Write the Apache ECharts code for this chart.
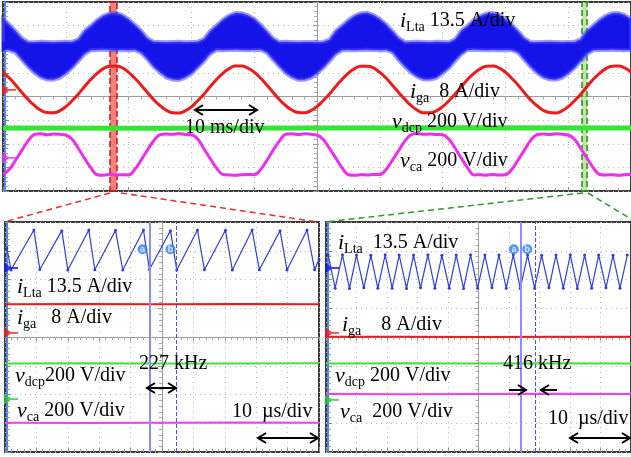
<!DOCTYPE html>
<html><head><meta charset="utf-8">
<script src="https://cdn.jsdelivr.net/npm/echarts@6/dist/echarts.min.js"></script>
<style>html,body{margin:0;padding:0;background:#fff}#c{width:631px;height:457px}</style>
</head><body><div id="c"></div>
<script>
// ---------- TOP PANEL (10 ms/div, time in ms relative to screen centre, 1 ms steps) ----------
const topStartMs = -50, topStepMs = 1;
const redTop = [
 1.03,0.78,0.49,0.17,-0.13,-0.38,-0.58,-0.68,-0.69,-0.61,-0.43,-0.18,0.11,0.42,0.73,0.98,1.18,1.28,1.29,1.21,
 1.02,0.77,0.48,0.17,-0.14,-0.39,-0.58,-0.69,-0.70,-0.61,-0.44,-0.18,0.10,0.42,0.72,0.98,1.18,1.29,1.29,1.20,
 1.03,0.78,0.49,0.18,-0.13,-0.38,-0.57,-0.68,-0.69,-0.60,-0.43,-0.17,0.11,0.43,0.73,0.99,1.18,1.28,1.28,1.21,
 1.02,0.78,0.48,0.17,-0.13,-0.39,-0.58,-0.69,-0.69,-0.61,-0.43,-0.18,0.11,0.42,0.73,0.98,1.17,1.28,1.29,1.21,
 1.03,0.77,0.49,0.17,-0.14,-0.38,-0.58,-0.68,-0.70,-0.61,-0.43,-0.18,0.10,0.42,0.73,0.98,1.18,1.28,1.29,1.21,
 1.03];
const magentaTop = [
 -3.30,-3.09,-2.70,-2.28,-1.88,-1.61,-1.58,-1.62,-1.59,-1.60,-1.63,-1.81,-2.20,-2.62,-3.02,-3.31,-3.33,-3.30,-3.32,-3.31,
 -3.32,-3.08,-2.69,-2.27,-1.87,-1.62,-1.59,-1.60,-1.57,-1.61,-1.62,-1.80,-2.21,-2.63,-3.03,-3.30,-3.32,-3.33,-3.31,-3.30,
 -3.31,-3.10,-2.71,-2.28,-1.89,-1.60,-1.58,-1.61,-1.58,-1.60,-1.63,-1.82,-2.20,-2.61,-3.02,-3.31,-3.33,-3.31,-3.32,-3.30,
 -3.30,-3.09,-2.70,-2.29,-1.88,-1.61,-1.57,-1.60,-1.59,-1.61,-1.62,-1.81,-2.19,-2.62,-3.03,-3.32,-3.31,-3.33,-3.30,-3.32,
 -3.31,-3.09,-2.70,-2.28,-1.87,-1.62,-1.59,-1.61,-1.58,-1.60,-1.63,-1.81,-2.20,-2.62,-3.02,-3.30,-3.32,-3.31,-3.33,-3.31,
 -3.30];
const blueUpper = [
 3.28,3.05,2.77,2.47,2.31,2.30,2.32,2.31,2.30,2.31,2.32,2.31,2.42,2.78,3.00,3.24,3.42,3.52,3.53,3.45,
 3.27,3.04,2.78,2.46,2.32,2.31,2.30,2.31,2.32,2.30,2.31,2.32,2.43,2.77,3.01,3.25,3.43,3.53,3.52,3.44,
 3.29,3.05,2.76,2.47,2.31,2.32,2.31,2.30,2.31,2.31,2.30,2.31,2.41,2.78,3.00,3.23,3.42,3.52,3.54,3.45,
 3.28,3.06,2.77,2.48,2.30,2.31,2.32,2.31,2.30,2.32,2.31,2.30,2.42,2.79,3.00,3.24,3.41,3.51,3.53,3.46,
 3.28,3.05,2.77,2.47,2.31,2.30,2.31,2.32,2.31,2.30,2.31,2.31,2.42,2.78,3.01,3.24,3.42,3.52,3.53,3.45,
 3.28];
const blueLower = [
 1.97,1.96,1.86,1.56,1.26,1.01,0.82,0.72,0.71,0.79,0.97,1.21,1.50,1.80,1.96,1.97,1.98,1.97,1.96,1.97,
 1.96,1.97,1.85,1.57,1.25,1.02,0.81,0.72,0.70,0.80,0.96,1.22,1.49,1.81,1.97,1.96,1.97,1.98,1.97,1.96,
 1.97,1.98,1.86,1.56,1.27,1.00,0.82,0.71,0.71,0.79,0.97,1.21,1.50,1.80,1.96,1.97,1.96,1.97,1.98,1.97,
 1.96,1.97,1.87,1.55,1.26,1.01,0.83,0.72,0.72,0.78,0.98,1.20,1.51,1.79,1.97,1.98,1.97,1.96,1.97,1.96,
 1.97,1.96,1.86,1.56,1.26,1.01,0.82,0.73,0.71,0.79,0.97,1.21,1.50,1.80,1.96,1.97,1.97,1.98,1.97,1.96,
 1.97];
const flatTimes = [-50, -25, 0, 25, 50];
const greenTop = [-1.33, -1.34, -1.33, -1.32, -1.33];
const topMarkerLevels = [2.14, 0.28, -2.60];
const redCursorMs = [-32.96, -31.85];
const greenCursorMs = [42.2, 43.0];

// ---------- BOTTOM-LEFT (10 us/div, time in us rel. centre) ----------
const blTimes = [-49.4,-48.1,-40.8,-38.9,-31.9,-30.0,-23.3,-21.4,-14.8,-12.5,-5.9,-4.0,2.7,4.7,11.3,13.5,20.2,22.4,28.7,31.0,37.6,39.8,46.2,48.6,50];
const blBlue  = [3.10,2.33,3.72,2.35,3.70,2.33,3.72,2.34,3.71,2.33,3.72,2.35,3.70,2.33,3.72,2.34,3.71,2.33,3.72,2.34,3.70,2.33,3.72,2.34,2.70];
const blRed = [1.14, 1.15, 1.14, 1.15, 1.14];
const blGreen = [-0.92, -0.91, -0.92, -0.92, -0.91];
const blMagenta = [-2.98, -2.99, -2.98, -2.97, -2.98];
const blCursorsUs = [-4.0, 4.6];
const blCursorTags = [-6.2, 2.7];
const blMarkerLevels = [2.40, 0.14, -2.16];

// ---------- BOTTOM-RIGHT ----------
const brTimes = [-49.3,-47.0,-44.6,-42.3,-40.0,-37.6,-35.3,-33.0,-30.6,-28.3,-26.0,-23.6,-21.3,-19.0,-16.6,-14.3,-12.0,-9.6,-7.3,-4.9,-2.6,-0.3,2.1,4.4,6.7,9.1,11.4,13.7,16.1,18.4,20.7,23.1,25.4,27.8,30.1,32.4,34.8,37.1,39.4,41.8,44.1,46.4,48.8];
const brBlue  = [2.85,1.70,2.86,1.69,2.85,1.71,2.84,1.70,2.86,1.70,2.85,1.69,2.85,1.71,2.86,1.70,2.84,1.70,2.85,1.69,2.86,1.70,2.85,1.71,2.85,1.70,2.86,1.69,2.85,1.70,2.84,1.71,2.85,1.70,2.86,1.69,2.85,1.70,2.85,1.71,2.84,1.70,2.85];
const brRed = [0.01, 0.01, 0.00, 0.01, 0.01];
const brGreen = [-0.92, -0.91, -0.92, -0.91, -0.92];
const brMagenta = [-1.98, -1.99, -1.98, -1.97, -1.98];
const brCursorsUs = [14.0, 18.5];
const brCursorTags = [11.6, 16.0];
const brMarkerLevels = [2.40, 0.14, -2.19];
const cursorTagLevel = 3.05;

// ---------- styles ----------
const C = {blue:'#1414e8', red:'#f01a1a', green:'#33e633', mag:'#f02cf0', sblue:'#2f3fe0'};
const serif = '"Liberation Serif","Times New Roman",serif';

const chart = echarts.init(document.getElementById('c'), null, {renderer:'canvas'});

const grids = [
  {left:3, top:2, width:628, height:189},
  {left:5, top:222, width:314, height:230},
  {left:326, top:222, width:314, height:230}
].map(g => Object.assign(g, {show:true, borderColor:'#3c3c3c', borderWidth:2, backgroundColor:'#fff', containLabel:false}));

const xAxes = [], yAxes = [];
grids.forEach((g, gi) => {
  xAxes.push({type:'value', gridIndex:gi, min:-50, max:50, interval:10, position:'bottom',
    axisLine:{show:false, onZero:false}, axisLabel:{show:false},
    axisTick:{show:true, inside:true, length:4, lineStyle:{color:'#8a8a8a'}},
    minorTick:{show:true, splitNumber:5, length:3, lineStyle:{color:'#a0a0a0'}},
    splitLine:{show:true, lineStyle:{color:'#b8b8b8', type:[1,4]}}});
  xAxes.push({type:'value', gridIndex:gi, min:-50, max:50, interval:10, position:'top',
    axisLine:{show:true, onZero:true, lineStyle:{color:'#9c9c9c', width:1}}, axisLabel:{show:false},
    axisTick:{show:true, inside:true, length:4, lineStyle:{color:'#9c9c9c'}},
    minorTick:{show:true, splitNumber:5, length:3, lineStyle:{color:'#a8a8a8'}},
    splitLine:{show:false}});
  yAxes.push({type:'value', gridIndex:gi, min:-4, max:4, interval:1, position:'left', offset:-2,
    axisLine:{show:true, onZero:false, lineStyle:{color:'#4a86f0', width:2}}, axisLabel:{show:false},
    axisTick:{show:true, inside:true, length:4, lineStyle:{color:'#8a8a8a'}},
    minorTick:{show:true, splitNumber:5, length:3, lineStyle:{color:'#a0a0a0'}},
    splitLine:{show:true, lineStyle:{color:'#b8b8b8', type:[1,4]}}});
  yAxes.push({type:'value', gridIndex:gi, min:-4, max:4, interval:1, position:'right',
    axisLine:{show:true, onZero:true, lineStyle:{color:'#9c9c9c', width:1}}, axisLabel:{show:false},
    axisTick:{show:true, inside:true, length:4, lineStyle:{color:'#9c9c9c'}},
    minorTick:{show:true, splitNumber:5, length:3, lineStyle:{color:'#a8a8a8'}},
    splitLine:{show:false}});
});

const pairs = (ts, vs) => vs.map((v, i) => [ts[i], v]);
const topPairs = vs => vs.map((v, i) => [topStartMs + i * topStepMs, v]);
const markerPath = 'path://M0,0 L8,5 L0,10 Z M7,4.2 L14,4.2 L14,5.8 L7,5.8 Z';

function markerSeries(gi, levels, colors) {
  return {type:'scatter', xAxisIndex:gi*2, yAxisIndex:gi*2, clip:false, z:8, silent:true,
    symbol:markerPath, symbolSize:[14,11], symbolOffset:[6,0],
    data: levels.map((v, i) => ({value:[-50, v], itemStyle:{color:colors[i]}}))};
}
function flat(gi, vals, color, w) {
  return {type:'line', xAxisIndex:gi*2, yAxisIndex:gi*2, data:pairs(flatTimes, vals), showSymbol:false,
    lineStyle:{color, width:w}, silent:true, z:3};
}
function tags(gi, xs) {
  return {type:'scatter', xAxisIndex:gi*2, yAxisIndex:gi*2, symbol:'circle', symbolSize:10, z:9, silent:true,
    itemStyle:{color:'#2d7ef0'},
    label:{show:true, position:'inside', color:'#fff', fontSize:9, fontWeight:'bold', formatter:p => p.data.name},
    data: xs.map((x, i) => ({name: i === 0 ? 'a' : 'b', value:[x, cursorTagLevel]}))};
}
function cursorLines(xs) {
  return {symbol:'none', silent:true, label:{show:false},
    data:[{xAxis:xs[0], lineStyle:{type:'solid', color:'#8c8cff', width:2}},
          {xAxis:xs[1], lineStyle:{type:'dashed', color:'#4050ff', width:1}}]};
}

const series = [
  {type:'custom', xAxisIndex:0, yAxisIndex:0, z:2, silent:true, data:[[0,0]],
   renderItem:(params, api) => {
     const up = blueUpper.map((v, i) => api.coord([topStartMs + i*topStepMs, v]));
     const lo = blueLower.map((v, i) => api.coord([topStartMs + i*topStepMs, v])).reverse();
     return {type:'polygon', shape:{points: up.concat(lo)},
             style:{fill:C.blue, stroke:'rgba(70,70,255,0.55)', lineWidth:4}};
   }},
  {type:'line', xAxisIndex:0, yAxisIndex:0, data:topPairs(redTop), smooth:true, showSymbol:false, z:3,
   lineStyle:{color:C.red, width:3}, silent:true},
  {type:'line', xAxisIndex:0, yAxisIndex:0, data:pairs(flatTimes, greenTop), showSymbol:false, z:3,
   lineStyle:{color:C.green, width:5}, silent:true},
  {type:'line', xAxisIndex:0, yAxisIndex:0, data:topPairs(magentaTop), smooth:0.4, showSymbol:false, z:3,
   lineStyle:{color:C.mag, width:3}, silent:true},
  markerSeries(0, topMarkerLevels, [C.blue, C.red, C.mag]),
  {type:'line', xAxisIndex:0, yAxisIndex:0, data:[], z:10, silent:true,
   markArea:{silent:true, data:[
     [{xAxis:redCursorMs[0], itemStyle:{color:'rgba(238,50,50,0.62)', borderColor:'#d41010', borderWidth:1.5, borderType:'dashed'}}, {xAxis:redCursorMs[1]}],
     [{xAxis:greenCursorMs[0], itemStyle:{color:'rgba(165,215,110,0.65)', borderColor:'#1f8f1f', borderWidth:1.5, borderType:'dashed'}}, {xAxis:greenCursorMs[1]}]
   ]}},

  {type:'line', xAxisIndex:2, yAxisIndex:2, data:pairs(blTimes, blBlue), showSymbol:true, symbol:'circle', symbolSize:3, z:4,
   itemStyle:{color:C.sblue}, lineStyle:{color:C.sblue, width:1.2}, silent:true, markLine:cursorLines(blCursorsUs)},
  flat(1, blRed, '#e42020', 2), flat(1, blGreen, '#44e044', 2), flat(1, blMagenta, '#f040f0', 2),
  markerSeries(1, blMarkerLevels, [C.blue, C.red, '#22cc33']),
  tags(1, blCursorTags),

  {type:'line', xAxisIndex:4, yAxisIndex:4, data:pairs(brTimes, brBlue), showSymbol:true, symbol:'circle', symbolSize:3, z:4,
   itemStyle:{color:C.sblue}, lineStyle:{color:C.sblue, width:1.2}, silent:true, markLine:cursorLines(brCursorsUs)},
  flat(2, brRed, '#e42020', 2), flat(2, brGreen, '#44e044', 2), flat(2, brMagenta, '#f040f0', 2),
  markerSeries(2, brMarkerLevels, [C.blue, C.red, '#22cc33']),
  tags(2, brCursorTags)
];

// ---------- annotations ----------
const rich = {
  v:{fontFamily:serif, fontStyle:'italic', fontSize:22, color:'#000', lineHeight:26},
  s:{fontFamily:serif, fontSize:14, color:'#000', lineHeight:20, verticalAlign:'bottom'},
  t:{fontFamily:serif, fontSize:20, color:'#000', lineHeight:26}
};
const txt = (x, y, text) => ({type:'text', x, y, z:100, silent:true,
  style:{text, rich, fontFamily:serif, fontSize:20, fill:'#000', align:'left', verticalAlign:'middle'}});
const ln = (x1, y1, x2, y2, stroke, w, dash) => ({type:'line', z:100, silent:true,
  shape:{x1, y1, x2, y2}, style:{stroke, lineWidth:w, lineDash:dash || null}});
const head = (x, y, dir) => ({type:'polyline', z:100, silent:true,
  shape:{points:[[x - dir*8, y - 5], [x, y], [x - dir*8, y + 5]]}, style:{stroke:'#000', lineWidth:2, fill:null}});
const dbl = (x1, x2, y) => [ln(x1, y, x2, y, '#000', 2), head(x1, y, -1), head(x2, y, 1)];

const graphic = [
  txt(400, 21, '{v|i}{s|Lta}{t| 13.5 A/div}'),
  txt(410, 92, '{v|i}{s|ga}{t|  8 A/div}'),
  txt(392, 122, '{v|v}{s|dcp}{t| 200 V/div}'),
  txt(400, 161, '{v|v}{s|ca}{t| 200 V/div}'),
  txt(185, 128, '{t|10 ms/div}'),
  ...dbl(195, 257, 110),

  txt(17, 287, '{v|i}{s|Lta}{t| 13.5 A/div}'),
  txt(17, 318, '{v|i}{s|ga}{t|   8 A/div}'),
  txt(15, 376, '{v|v}{s|dcp}{t|200 V/div}'),
  txt(17, 411, '{v|v}{s|ca}{t| 200 V/div}'),
  txt(139, 364, '{t|227 kHz}'),
  txt(232, 412, '{t|10  µs/div}'),
  ...dbl(147, 176, 388),
  ...dbl(258, 318, 438),

  txt(338, 243, '{v|i}{s|Lta}{t|  13.5 A/div}'),
  txt(342, 325, '{v|i}{s|ga}{t|    8 A/div}'),
  txt(335, 376, '{v|v}{s|dcp}{t| 200 V/div}'),
  txt(340, 412, '{v|v}{s|ca}{t|  200 V/div}'),
  txt(503, 364, '{t|416 kHz}'),
  txt(548, 419, '{t|10  µs/div}'),
  ln(509, 390, 526, 390, '#000', 2), head(526, 390, 1),
  ln(541, 390, 557, 390, '#000', 2), head(541, 390, -1),
  ...dbl(570, 630, 438),

  ln(110, 193, 4, 222, '#e33030', 1.5, [6, 4]),
  ln(121, 193, 318, 222, '#e33030', 1.5, [6, 4]),
  ln(583, 193, 325, 222, '#2a9a2a', 1.5, [6, 4]),
  ln(588, 193, 631, 219, '#2a9a2a', 1.5, [6, 4])
];

chart.setOption({animation:false, backgroundColor:'#fff', grid:grids, xAxis:xAxes, yAxis:yAxes, series, graphic});
</script>
</body></html>
